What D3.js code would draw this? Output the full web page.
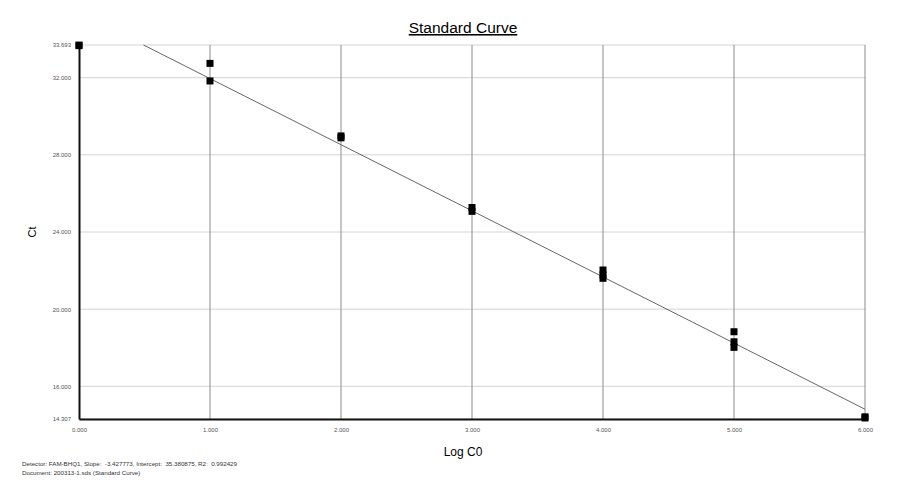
<!DOCTYPE html>
<html>
<head>
<meta charset="utf-8">
<script src="https://cdn.jsdelivr.net/npm/d3@7"></script>
<style>
body { margin: 0; background: #fff; }
text { font-family: Arial, "Liberation Sans", sans-serif; }
</style>
</head>
<body>
<div id="chart"></div>
<script>
// data
var logC0 = [0, 0, 1, 1, 2, 2, 3, 3, 4, 4, 4, 5, 5, 5, 6, 6];
var ct = [33.69, 33.66, 32.74, 31.83, 28.98, 28.88, 25.27, 25.07, 22.03, 21.78, 21.6, 18.83, 18.31, 18.02, 14.42, 14.36];
var xTicks = [0, 1, 2, 3, 4, 5, 6];
var yTicks = [33.693, 32, 28, 24, 20, 16, 14.307];
var slope = -3.427773, intercept = 35.380875;

var width = 900, height = 500;
var margin = {top: 45, right: 35, bottom: 81, left: 79};

var svg = d3.select("#chart")
  .append("svg")
  .attr("width", width)
  .attr("height", height);

var x = d3.scaleLinear()
  .domain([0, 6])
  .range([margin.left, width - margin.right]);

var y = d3.scaleLinear()
  .domain([14.307, 33.693])
  .range([height - margin.bottom, margin.top]);

// horizontal grid
svg.append("g")
  .selectAll("line")
  .data(yTicks)
  .enter()
  .append("line")
  .attr("x1", x(0)).attr("x2", x(6))
  .attr("y1", function(d) { return y(d); })
  .attr("y2", function(d) { return y(d); })
  .attr("stroke", "#d4d4d4")
  .attr("stroke-width", 1);

// vertical grid
svg.append("g")
  .selectAll("line")
  .data(xTicks.slice(1))
  .enter()
  .append("line")
  .attr("x1", function(d) { return x(d); })
  .attr("x2", function(d) { return x(d); })
  .attr("y1", y(33.693)).attr("y2", y(14.307))
  .attr("stroke", "#8c8c8c")
  .attr("stroke-width", 1);

// regression line, clipped to the plot
var x0 = (33.693 - intercept) / slope;
svg.append("line")
  .attr("x1", x(x0)).attr("y1", y(33.693))
  .attr("x2", x(6)).attr("y2", y(intercept + slope * 6))
  .attr("stroke", "#666")
  .attr("stroke-width", 1);

// axes
var xAxis = svg.append("g")
  .attr("transform", "translate(0," + y(14.307) + ")")
  .call(d3.axisBottom(x).tickValues(xTicks).tickSize(0).tickPadding(9).tickFormat(d3.format(".3f")));
xAxis.select(".domain").attr("stroke", "#111").attr("stroke-width", 2);
xAxis.selectAll("text").attr("fill", "#555").style("font-size", "6px");

var yAxis = svg.append("g")
  .attr("transform", "translate(" + x(0) + ",0)")
  .call(d3.axisLeft(y).tickValues(yTicks).tickSize(0).tickPadding(8).tickFormat(d3.format(".3f")));
yAxis.select(".domain").attr("stroke", "#111").attr("stroke-width", 2);
yAxis.selectAll("text").attr("fill", "#555").style("font-size", "6px");

// points
svg.append("g")
  .selectAll("rect")
  .data(logC0)
  .enter()
  .append("rect")
  .attr("x", function(d) { return x(d) - 3.5; })
  .attr("y", function(d, i) { return y(ct[i]) - 3.5; })
  .attr("width", 7)
  .attr("height", 7)
  .attr("fill", "#000");

// title
svg.append("text")
  .attr("x", 463).attr("y", 33)
  .attr("text-anchor", "middle")
  .style("font-size", "15.5px")
  .style("text-decoration", "underline")
  .text("Standard Curve");

svg.append("text")
  .attr("x", 463).attr("y", 456)
  .attr("text-anchor", "middle")
  .style("font-size", "12px")
  .text("Log C0");

svg.append("text")
  .attr("transform", "translate(36,232) rotate(-90)")
  .attr("text-anchor", "middle")
  .style("font-size", "11px")
  .text("Ct");

// footer
svg.append("text")
  .attr("x", 22).attr("y", 466)
  .style("font-size", "6.2px")
  .style("white-space", "pre")
  .attr("fill", "#333")
  .text("Detector: FAM-BHQ1, Slope:  -3.427773, Intercept:  35.380875, R2:  0.992429");
svg.append("text")
  .attr("x", 22).attr("y", 475)
  .style("font-size", "6.2px")
  .attr("fill", "#333")
  .text("Document: 200313-1.sds (Standard Curve)");
</script>
</body>
</html>
